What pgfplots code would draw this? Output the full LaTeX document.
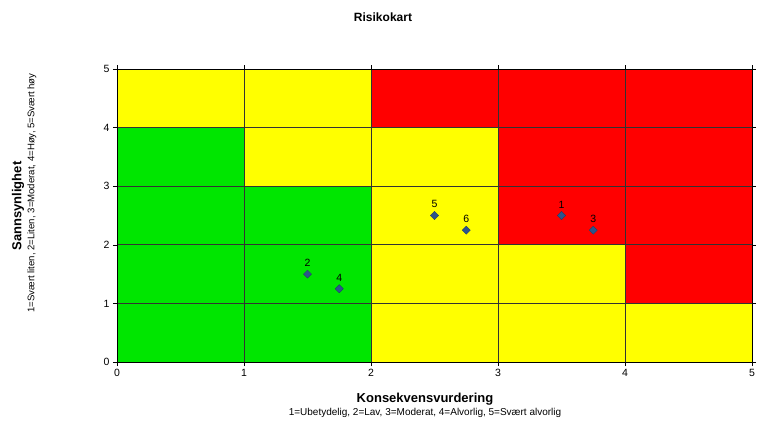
\documentclass[border=0pt]{standalone}
\usepackage{pgfplots}
\pgfplotsset{compat=1.18}
\usepackage{fontspec}
\setmainfont{Liberation Sans}
\definecolor{rgreen}{RGB}{0,230,0}
\definecolor{ryellow}{RGB}{255,255,0}
\definecolor{rred}{RGB}{255,0,0}
\definecolor{mblue}{RGB}{45,85,140}
\begin{document}
\begin{tikzpicture}[x=1pt,y=1pt]
\useasboundingbox (-117,-75) rectangle (643,362);
\begin{axis}[
  at={(0,0)}, anchor=south west,
  scale only axis, width=635pt, height=293pt,
  xmin=0, xmax=5, ymin=0, ymax=5,
  xtick={0,1,2,3,4,5}, ytick={0,1,2,3,4,5},
  tick align=outside, major tick length=4pt,
  tick style={black, line width=0.6pt},
  grid=major, major grid style={black!80, line width=1pt},
  axis on top,
  axis line style={black, line width=0.6pt},
  ticklabel style={font=\fontsize{10.5}{12}\selectfont},
  /pgf/number format/assume math mode=true,
  clip=false,
]
% row 0-1
\addplot[fill=rgreen, draw=none] coordinates {(0,0) (1,0) (1,1) (0,1)} --cycle;
\addplot[fill=rgreen, draw=none] coordinates {(1,0) (2,0) (2,1) (1,1)} --cycle;
\addplot[fill=ryellow, draw=none] coordinates {(2,0) (3,0) (3,1) (2,1)} --cycle;
\addplot[fill=ryellow, draw=none] coordinates {(3,0) (4,0) (4,1) (3,1)} --cycle;
\addplot[fill=ryellow, draw=none] coordinates {(4,0) (5,0) (5,1) (4,1)} --cycle;
% row 1-2
\addplot[fill=rgreen, draw=none] coordinates {(0,1) (1,1) (1,2) (0,2)} --cycle;
\addplot[fill=rgreen, draw=none] coordinates {(1,1) (2,1) (2,2) (1,2)} --cycle;
\addplot[fill=ryellow, draw=none] coordinates {(2,1) (3,1) (3,2) (2,2)} --cycle;
\addplot[fill=ryellow, draw=none] coordinates {(3,1) (4,1) (4,2) (3,2)} --cycle;
\addplot[fill=rred, draw=none] coordinates {(4,1) (5,1) (5,2) (4,2)} --cycle;
% row 2-3
\addplot[fill=rgreen, draw=none] coordinates {(0,2) (1,2) (1,3) (0,3)} --cycle;
\addplot[fill=rgreen, draw=none] coordinates {(1,2) (2,2) (2,3) (1,3)} --cycle;
\addplot[fill=ryellow, draw=none] coordinates {(2,2) (3,2) (3,3) (2,3)} --cycle;
\addplot[fill=rred, draw=none] coordinates {(3,2) (4,2) (4,3) (3,3)} --cycle;
\addplot[fill=rred, draw=none] coordinates {(4,2) (5,2) (5,3) (4,3)} --cycle;
% row 3-4
\addplot[fill=rgreen, draw=none] coordinates {(0,3) (1,3) (1,4) (0,4)} --cycle;
\addplot[fill=ryellow, draw=none] coordinates {(1,3) (2,3) (2,4) (1,4)} --cycle;
\addplot[fill=ryellow, draw=none] coordinates {(2,3) (3,3) (3,4) (2,4)} --cycle;
\addplot[fill=rred, draw=none] coordinates {(3,3) (4,3) (4,4) (3,4)} --cycle;
\addplot[fill=rred, draw=none] coordinates {(4,3) (5,3) (5,4) (4,4)} --cycle;
% row 4-5
\addplot[fill=ryellow, draw=none] coordinates {(0,4) (1,4) (1,5) (0,5)} --cycle;
\addplot[fill=ryellow, draw=none] coordinates {(1,4) (2,4) (2,5) (1,5)} --cycle;
\addplot[fill=rred, draw=none] coordinates {(2,4) (3,4) (3,5) (2,5)} --cycle;
\addplot[fill=rred, draw=none] coordinates {(3,4) (4,4) (4,5) (3,5)} --cycle;
\addplot[fill=rred, draw=none] coordinates {(4,4) (5,4) (5,5) (4,5)} --cycle;
% risk points
\addplot[only marks, mark=square*, mark size=2.9pt,
  mark options={fill=mblue, draw=mblue!70!black, line width=0.3pt, rotate=45},
  nodes near coords, point meta=explicit symbolic,
  every node near coord/.style={font=\fontsize{10.5}{12}\selectfont, black, anchor=south, yshift=4pt}]
  coordinates {
  (3.5,2.5) [1]
  (1.5,1.5) [2]
  (3.75,2.25) [3]
  (1.75,1.25) [4]
  (2.5,2.5) [5]
  (2.75,2.25) [6]
  };
\end{axis}
\node[font=\bfseries\fontsize{12}{14}\selectfont] at (266,345) {Risikokart};
\node[font=\bfseries\fontsize{13}{15}\selectfont] at (308,-37) {Konsekvensvurdering};
\node[font=\fontsize{10}{12}\selectfont] at (308,-51) {1=Ubetydelig, 2=Lav, 3=Moderat, 4=Alvorlig, 5=Svært alvorlig};
\node[rotate=90, font=\bfseries\fontsize{13}{15}\selectfont] at (-99,156) {Sannsynlighet};
\node[rotate=90, font=\fontsize{9.6}{12}\selectfont] at (-85,169) {1=Svært liten, 2=Liten, 3=Moderat, 4=Høy, 5=Svært høy};
\end{tikzpicture}
\end{document}
